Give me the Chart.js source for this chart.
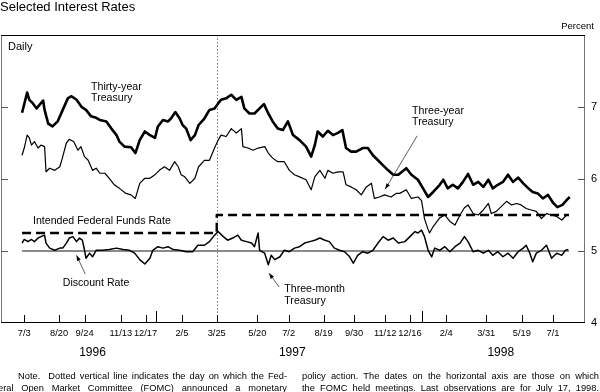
<!DOCTYPE html>
<html>
<head>
<meta charset="utf-8">
<title>Selected Interest Rates</title>
<script src="https://cdn.jsdelivr.net/npm/chart.js@4.4.1/dist/chart.umd.min.js"></script>
<style>
  body { margin: 0; background: #fff; }
  #wrap { position: relative; width: 600px; height: 392px; overflow: hidden;
          font-family: "Liberation Sans", Arial, Helvetica, sans-serif; color: #000; }
  #chart { position: absolute; left: 0; top: 0; }
  .title { position: absolute; left: 0; top: -1.5px; font-size: 13px; line-height: 15px; }
  .unit { position: absolute; right: 6px; top: 19.5px; font-size: 9.5px; line-height: 11px; }
  .note { position: absolute; font-size: 9.3px; line-height: 11.5px;
          text-align: justify; text-align-last: justify; }
</style>
</head>
<body>
<div id="wrap">
  <canvas id="chart" width="600" height="392"></canvas>
  <div class="title">Selected Interest Rates</div>
  <div class="unit">Percent</div>
  <div class="note" style="left:18px; top:371px; width:269px;">Note.&nbsp; Dotted vertical line indicates the day on which the Fed-</div>
  <div class="note" style="left:-2px; top:382.5px; width:289px;">eral Open Market Committee (FOMC) announced a monetary</div>
  <div class="note" style="left:302px; top:371px; width:297px;">policy action. The dates on the horizontal axis are those on which</div>
  <div class="note" style="left:302px; top:382.5px; width:297px;">the FOMC held meetings. Last observations are for July 17, 1998.</div>
</div>
<script>
// days are counted from July 3, 1996
const START = Date.UTC(1996, 6, 3);
const dayOf = (s) => {
    const [y, m, d] = s.split('-').map(Number);
    return Math.round((Date.UTC(y, m - 1, d) - START) / 86400000);
};

const fomcDates = ['1996-07-03', '1996-08-20', '1996-09-24', '1996-11-13', '1996-12-17',
    '1997-02-05', '1997-03-25', '1997-05-20', '1997-07-02', '1997-08-19', '1997-09-30',
    '1997-11-12', '1997-12-16', '1998-02-04', '1998-03-31', '1998-05-19', '1998-07-01'];
const fomcLabels = ['7/3', '8/20', '9/24', '11/13', '12/17', '2/5', '3/25', '5/20', '7/2',
    '8/19', '9/30', '11/12', '12/16', '2/4', '3/31', '5/19', '7/1'];
const yearStarts = ['1997-01-01', '1998-01-01'];
const yearLabels = ['1996', '1997', '1998'];
const yearLabelDays = [94, 369, 656];
const policyAction = '1997-03-25';
const rateTicks = [4, 5, 6, 7];

const longDays = [-3, 4, 7, 12, 17, 21, 26, 28, 33, 39, 46, 53, 60, 65, 72, 79, 85, 92, 99, 104,
    113, 120, 127, 131, 138, 147, 153, 159, 166, 173, 180, 184, 191, 198, 202, 208, 214, 218, 223, 229,
    235, 240, 248, 255, 262, 267, 271, 278, 285, 292, 299, 303, 310, 317, 324, 330, 336, 342, 349, 356,
    363, 370, 379, 388, 395, 400, 404, 411, 418, 425, 432, 438, 443, 450, 457, 466, 473, 480, 487, 494,
    501, 508, 515, 526, 533, 542, 549, 556, 563, 572, 577, 583, 590, 597, 604, 611, 618, 625, 632, 639,
    645, 652, 659, 666, 673, 680, 687, 694, 700, 707, 714, 721, 728, 734, 741, 747, 751];
const longRates = [6.92, 7.20, 7.10, 7.05, 6.98, 7.03, 7.09, 6.96, 6.77, 6.73, 6.80, 6.96, 7.12, 7.15, 7.10, 7.00, 6.96, 6.87, 6.85, 6.82,
    6.80, 6.70, 6.61, 6.52, 6.45, 6.44, 6.36, 6.54, 6.66, 6.61, 6.57, 6.73, 6.82, 6.80, 6.84, 6.93, 6.84, 6.75, 6.70, 6.54,
    6.61, 6.75, 6.84, 6.96, 6.98, 7.05, 7.10, 7.12, 7.17, 7.10, 7.14, 6.98, 6.91, 6.91, 6.98, 7.04, 6.91, 6.80, 6.70, 6.68,
    6.80, 6.61, 6.54, 6.45, 6.31, 6.47, 6.66, 6.59, 6.67, 6.61, 6.64, 6.68, 6.43, 6.38, 6.38, 6.43, 6.43, 6.33, 6.26, 6.19,
    6.12, 6.06, 6.06, 6.15, 6.06, 5.99, 5.87, 5.75, 5.82, 5.92, 5.99, 5.87, 5.92, 5.87, 5.96, 6.07, 5.92, 5.96, 5.89, 5.99,
    5.87, 5.92, 5.96, 6.06, 5.96, 6.02, 5.94, 5.87, 5.82, 5.80, 5.73, 5.78, 5.67, 5.61, 5.64, 5.71, 5.75];

const threeYearDays = [-3, 0, 4, 7, 10, 14, 19, 23, 28, 30, 35, 42, 49, 53, 58, 62, 68, 74, 78, 83,
    88, 94, 99, 104, 111, 117, 124, 131, 140, 147, 153, 159, 166, 173, 180, 186, 193, 200, 207, 212,
    216, 221, 228, 235, 240, 248, 255, 262, 267, 271, 278, 285, 292, 299, 301, 308, 315, 322, 331, 336,
    342, 349, 358, 365, 372, 379, 388, 395, 400, 407, 414, 418, 425, 432, 439, 443, 450, 457, 464, 471,
    478, 482, 489, 496, 505, 512, 517, 526, 533, 542, 547, 551, 556, 558, 563, 572, 579, 586, 593, 600,
    606, 611, 618, 625, 632, 639, 643, 650, 657, 664, 671, 678, 684, 691, 698, 705, 712, 719, 726, 733,
    740, 747, 750];
const threeYearRates = [6.33, 6.43, 6.61, 6.57, 6.47, 6.52, 6.43, 6.47, 6.45, 6.10, 6.15, 6.12, 6.17, 6.31, 6.50, 6.55, 6.52, 6.40, 6.45, 6.31,
    6.26, 6.12, 6.15, 6.08, 6.08, 6.01, 5.92, 5.87, 5.80, 5.78, 5.73, 5.94, 6.01, 6.01, 6.06, 6.12, 6.17, 6.12, 6.24, 6.17,
    6.06, 6.03, 5.94, 6.01, 6.17, 6.26, 6.26, 6.43, 6.54, 6.61, 6.59, 6.70, 6.64, 6.70, 6.45, 6.43, 6.40, 6.43, 6.45, 6.36,
    6.29, 6.24, 6.24, 6.12, 6.06, 6.03, 5.99, 5.85, 6.03, 6.12, 6.01, 6.12, 6.08, 6.10, 6.10, 5.92, 5.89, 5.85, 5.78, 5.89,
    5.94, 5.73, 5.75, 5.78, 5.75, 5.80, 5.80, 5.85, 5.73, 5.75, 5.70, 5.45, 5.30, 5.25, 5.34, 5.46, 5.50, 5.41, 5.36, 5.50,
    5.60, 5.64, 5.52, 5.50, 5.57, 5.66, 5.52, 5.55, 5.62, 5.69, 5.64, 5.66, 5.64, 5.59, 5.57, 5.55, 5.45, 5.52, 5.50, 5.48,
    5.43, 5.50, 5.49];

const billDays = [-3, 0, 5, 10, 14, 19, 23, 28, 30, 35, 42, 49, 53, 58, 62, 67, 72, 76, 80, 83,
    85, 90, 94, 99, 108, 117, 127, 136, 145, 152, 159, 166, 173, 177, 184, 191, 198, 205, 214, 223,
    232, 239, 248, 255, 262, 267, 274, 280, 287, 294, 299, 306, 313, 317, 322, 324, 331, 336, 340, 345,
    352, 358, 365, 372, 379, 386, 393, 400, 407, 414, 420, 427, 434, 441, 448, 453, 459, 466, 473, 480,
    487, 494, 501, 508, 515, 524, 531, 538, 542, 547, 551, 556, 561, 565, 572, 579, 586, 593, 600, 606,
    611, 618, 625, 632, 639, 645, 652, 659, 666, 673, 680, 687, 691, 696, 700, 705, 712, 719, 726, 733,
    740, 745, 749];
const billRates = [5.11, 5.16, 5.13, 5.16, 5.13, 5.18, 5.20, 5.22, 5.11, 5.04, 5.01, 5.04, 5.04, 5.11, 5.18, 5.20, 5.13, 5.18, 5.15, 5.01,
    4.90, 4.97, 4.92, 5.01, 5.01, 5.02, 5.04, 5.02, 5.01, 4.97, 4.88, 4.82, 4.90, 5.01, 5.06, 5.04, 5.06, 5.02, 5.01, 4.99,
    4.99, 5.08, 5.08, 5.13, 5.22, 5.27, 5.20, 5.15, 5.18, 5.22, 5.15, 5.13, 5.11, 5.06, 5.25, 5.01, 4.97, 4.81, 4.94, 4.88,
    4.92, 5.01, 4.99, 5.04, 5.06, 5.11, 5.13, 5.15, 5.18, 5.15, 5.13, 5.04, 5.01, 4.99, 4.92, 4.83, 4.94, 4.99, 4.97, 5.01,
    5.11, 5.20, 5.15, 5.18, 5.11, 5.13, 5.20, 5.27, 5.25, 5.29, 5.20, 5.01, 4.92, 5.04, 5.01, 5.06, 4.99, 5.06, 5.11, 5.20,
    5.13, 4.99, 5.01, 4.97, 5.01, 4.94, 4.99, 4.92, 4.97, 4.90, 4.99, 5.04, 5.08, 4.97, 4.85, 4.97, 5.01, 5.08, 4.90, 4.97,
    4.94, 5.01, 5.02];

const fedFundsDays = [-3, 265, 750];
const fedFundsRates = [5.25, 5.50, 5.50];
const discountDays = [-3, 750];
const discountRates = [5.00, 5.00];

const pairs = (xs, ys) => xs.map((x, i) => ({x: x, y: ys[i]}));

// in-plot labels, anchored in data units
const labels = [
    {lines: ['Thirty-year', 'Treasury'], day: 92, rate: 7.28},
    {lines: ['Three-year', 'Treasury'], day: 534, rate: 6.95},
    {lines: ['Intended Federal Funds Rate'], day: 12, rate: 5.41},
    {lines: ['Discount Rate'], day: 53, rate: 4.55},
    {lines: ['Three-month', 'Treasury'], day: 358, rate: 4.47},
];
const pointers = [
    {from: [541, 6.60], to: [497, 5.86]},
    {from: [84, 4.68], to: [72, 4.94]},
    {from: [351, 4.50], to: [337, 4.69]},
];

const FONT = '"Liberation Sans", Arial, Helvetica, sans-serif';

const decorations = {
    id: 'decorations',
    beforeDatasetsDraw(chart) {
        const {ctx, chartArea: a, scales: {x}} = chart;
        const px = Math.round(x.getPixelForValue(dayOf(policyAction))) + 0.5;
        ctx.save();
        ctx.strokeStyle = '#777';
        ctx.lineWidth = 1;
        ctx.setLineDash([1.5, 2]);
        ctx.beginPath();
        ctx.moveTo(px, a.top);
        ctx.lineTo(px, a.bottom);
        ctx.stroke();
        ctx.restore();
    },
    afterDatasetsDraw(chart) {
        const {ctx, chartArea: a, scales: {x, y}} = chart;
        ctx.save();
        // frame
        ctx.lineWidth = 1;
        ctx.strokeStyle = '#777';
        ctx.beginPath();
        ctx.moveTo(a.left + 0.5, a.top); ctx.lineTo(a.left + 0.5, a.bottom);
        ctx.moveTo(a.right - 0.5, a.top); ctx.lineTo(a.right - 0.5, a.bottom);
        ctx.stroke();
        ctx.strokeStyle = '#000';
        ctx.beginPath();
        ctx.moveTo(a.left, a.top + 0.5); ctx.lineTo(a.right, a.top + 0.5);
        ctx.moveTo(a.left, a.bottom - 0.5); ctx.lineTo(a.right, a.bottom - 0.5);
        ctx.stroke();

        // ticks pointing into the plot
        ctx.strokeStyle = '#000';
        ctx.beginPath();
        fomcDates.forEach(d => {
            const px = Math.round(x.getPixelForValue(dayOf(d))) + 0.5;
            ctx.moveTo(px, a.bottom); ctx.lineTo(px, a.bottom - 8);
        });
        yearStarts.forEach(d => {
            const px = Math.round(x.getPixelForValue(dayOf(d))) + 0.5;
            ctx.moveTo(px, a.bottom); ctx.lineTo(px, a.bottom - 12);
        });
        ctx.stroke();
        ctx.strokeStyle = '#555';
        ctx.beginPath();
        rateTicks.slice(1).forEach(r => {
            const py = Math.round(y.getPixelForValue(r)) + 0.5;
            ctx.moveTo(a.left, py); ctx.lineTo(a.left + 7, py);
            ctx.moveTo(a.right, py); ctx.lineTo(a.right - 7, py);
        });
        ctx.stroke();

        // year labels
        ctx.fillStyle = '#000';
        ctx.font = '12px ' + FONT;
        ctx.textAlign = 'center';
        ctx.textBaseline = 'alphabetic';
        yearLabels.forEach((t, i) => ctx.fillText(t, x.getPixelForValue(yearLabelDays[i]), a.bottom + 33));

        // panel label
        ctx.font = '11px ' + FONT;
        ctx.textAlign = 'left';
        ctx.textBaseline = 'middle';
        ctx.fillText('Daily', a.left + 7, a.top + 12);

        // series labels
        ctx.font = '10.6px ' + FONT;
        labels.forEach(l => {
            const lx = x.getPixelForValue(l.day);
            const ly = y.getPixelForValue(l.rate);
            l.lines.forEach((t, i) => ctx.fillText(t, lx, ly + i * 11.7));
        });

        // pointers with small arrow heads
        ctx.strokeStyle = '#333';
        ctx.fillStyle = '#000';
        ctx.lineWidth = 0.8;
        pointers.forEach(p => {
            const x1 = x.getPixelForValue(p.from[0]), y1 = y.getPixelForValue(p.from[1]);
            const x2 = x.getPixelForValue(p.to[0]), y2 = y.getPixelForValue(p.to[1]);
            const ang = Math.atan2(y2 - y1, x2 - x1);
            ctx.beginPath();
            ctx.moveTo(x1, y1); ctx.lineTo(x2, y2);
            ctx.stroke();
            ctx.beginPath();
            ctx.moveTo(x2, y2);
            ctx.lineTo(x2 - 6 * Math.cos(ang - 0.35), y2 - 6 * Math.sin(ang - 0.35));
            ctx.lineTo(x2 - 6 * Math.cos(ang + 0.35), y2 - 6 * Math.sin(ang + 0.35));
            ctx.closePath();
            ctx.fill();
        });
        ctx.restore();
    }
};

Chart.defaults.font.family = FONT;
Chart.defaults.color = '#000';

const line = (label, xs, ys, extra) => Object.assign({
    label: label,
    data: pairs(xs, ys),
    borderColor: '#000',
    pointRadius: 0,
    tension: 0,
    borderJoinStyle: 'round',
    borderCapStyle: 'butt',
}, extra);

new Chart(document.getElementById('chart'), {
    type: 'line',
    data: {
        datasets: [
            line('Thirty-year Treasury', longDays, longRates, {borderWidth: 2.6}),
            line('Three-year Treasury', threeYearDays, threeYearRates, {borderWidth: 1.2}),
            line('Three-month Treasury', billDays, billRates, {borderWidth: 1.5}),
            line('Intended Federal Funds Rate', fedFundsDays, fedFundsRates,
                {borderWidth: 2.4, borderDash: [9, 5], stepped: 'before'}),
            line('Discount Rate', discountDays, discountRates, {borderWidth: 2, borderColor: '#8a8a8a'}),
        ]
    },
    options: {
        responsive: false,
        animation: false,
        layout: {padding: {left: 1, top: 35, right: 0, bottom: 0}},
        plugins: {legend: {display: false}, tooltip: {enabled: false}},
        scales: {
            x: {
                type: 'linear',
                position: 'bottom',
                min: -32,
                max: 772,
                grid: {display: false, drawTicks: false},
                border: {display: false},
                afterBuildTicks: (axis) => { axis.ticks = fomcDates.map(d => ({value: dayOf(d)})); },
                afterFit: (axis) => { axis.height = 69; },
                ticks: {
                    autoSkip: false,
                    maxRotation: 0,
                    minRotation: 0,
                    padding: 5,
                    font: {size: 9.3},
                    callback: (value, index) => fomcLabels[index],
                }
            },
            y: {
                type: 'linear',
                position: 'right',
                min: 4,
                max: 8,
                grid: {display: false, drawTicks: false},
                border: {display: false},
                afterBuildTicks: (axis) => { axis.ticks = rateTicks.map(v => ({value: v})); },
                afterFit: (axis) => { axis.width = 15; },
                ticks: {
                    padding: 6,
                    font: {size: 11},
                    callback: (value) => String(value),
                }
            }
        }
    },
    plugins: [decorations]
});
</script>
</body>
</html>
